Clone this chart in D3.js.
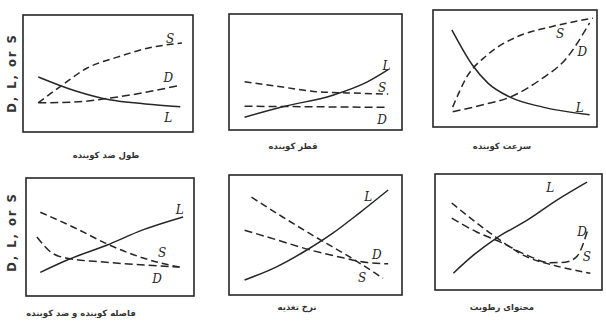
<!DOCTYPE html>
<html>
<head>
<meta charset="utf-8">
<script src="https://cdn.jsdelivr.net/npm/d3@7"></script>
<style>
  body { margin: 0; background: #fff; }
  svg { display: block; }
</style>
</head>
<body>
<div id="chart"></div>
<script>
// عنوان هر نمودار (متغیر محور افقی)
const panelTitles = [
  "طول ضد کوبنده",
  "قطر کوبنده",
  "سرعت کوبنده",
  "فاصله کوبنده و ضد کوبنده",
  "نرخ تغذیه",
  "محتوای رطوبت"
];
const yLabel = "D, L, or S";
const seriesNames = ["L", "S", "D"];

// منحنی ها - مقادیر نسبی (۰ تا ۱۰) خوانده شده از تصویر
const lossCurves = [
  [[0.9, 4.7], [3.1, 3.5], [5.1, 2.75], [7.2, 2.4], [9.25, 2.15]],
  [[0.9, 1.1], [3.1, 2.0], [6.0, 3.0], [8.0, 4.15], [9.2, 5.2]],
  [[1.15, 8.3], [2.4, 5.3], [3.35, 3.75], [4.7, 2.55], [6.7, 1.7], [9.55, 1.05]],
  [[0.85, 2.0], [2.45, 3.05], [4.8, 4.3], [6.95, 5.6], [9.35, 6.7]],
  [[0.9, 1.25], [2.75, 2.35], [4.5, 3.75], [6.0, 5.15], [7.55, 6.85], [9.2, 8.75]],
  [[1.1, 1.45], [2.3, 3.0], [3.7, 4.5], [5.5, 6.0], [7.3, 7.75], [9.1, 9.3]]
];
const separationCurves = [
  [[0.9, 2.5], [2.3, 4.0], [3.75, 5.45], [5.55, 6.4], [7.45, 7.2], [9.35, 7.6]],
  [[0.9, 4.15], [3.1, 3.7], [5.1, 3.3], [6.8, 3.2], [9.2, 3.1]],
  [[1.2, 1.7], [2.05, 4.25], [3.3, 6.15], [5.1, 7.7], [7.15, 8.55], [9.75, 9.3]],
  [[0.85, 7.1], [2.8, 5.85], [5.0, 4.3], [6.8, 3.3], [8.0, 2.8], [9.15, 2.45]],
  [[1.3, 8.15], [3.1, 6.5], [5.1, 4.75], [7.0, 3.15], [8.9, 1.4]],
  [[1.0, 7.5], [2.3, 6.0], [3.7, 4.5], [5.5, 2.85], [7.05, 2.15], [9.3, 1.45]]
];
const damageCurves = [
  [[0.9, 2.5], [2.95, 2.55], [5.1, 2.9], [7.05, 3.35], [9.25, 4.0]],
  [[0.9, 2.05], [5.0, 2.0], [9.2, 1.95]],
  [[1.2, 1.3], [3.05, 1.9], [4.7, 2.55], [6.5, 4.0], [8.15, 5.9], [9.55, 8.9]],
  [[0.65, 5.0], [1.45, 3.75], [2.45, 3.2], [4.4, 2.9], [6.8, 2.65], [9.15, 2.45]],
  [[0.9, 5.4], [2.75, 4.6], [4.7, 3.75], [6.6, 3.1], [8.0, 2.7], [9.2, 2.6]],
  [[1.0, 6.2], [2.5, 5.0], [3.9, 4.15], [5.5, 3.0], [6.9, 2.35], [7.8, 2.4], [8.5, 2.9], [9.15, 5.2]]
];

// چیدمان قاب ها (پیکسل)
const frames = [
  { x: 23, y: 15, w: 170, h: 117, tx: 106, ty: 155 },
  { x: 229, y: 14, w: 173, h: 116, tx: 293, ty: 146 },
  { x: 433, y: 10, w: 164, h: 117, tx: 502, ty: 146 },
  { x: 26, y: 178, w: 168, h: 118, tx: 81, ty: 313 },
  { x: 229, y: 175, w: 173, h: 120, tx: 297, ty: 307 },
  { x: 435, y: 174, w: 167, h: 116, tx: 502, ty: 307 }
];
// محل برچسب حروف روی منحنی ها (واحد نسبی) به ترتیب L, S, D
const labelSpots = [
  [[8.55, 1.2], [8.65, 8.0], [8.55, 4.6]],
  [[9.1, 5.5], [8.85, 3.65], [8.85, 0.85]],
  [[8.95, 1.6], [7.75, 8.0], [9.1, 6.4]],
  [[9.15, 7.3], [8.1, 3.65], [7.8, 1.5]],
  [[8.05, 8.2], [7.7, 1.4], [8.55, 3.35]],
  [[6.9, 8.8], [9.1, 2.85], [8.8, 5.0]]
];
const dashStyle = { L: null, S: "7,4", D: "8,4" };

const width = 606, height = 322;
const svg = d3.select("#chart").append("svg")
  .attr("width", width)
  .attr("height", height);

const ink = "#262626";

frames.forEach((f, i) => {
  const x = d3.scaleLinear().domain([0, 10]).range([0, f.w]);
  const y = d3.scaleLinear().domain([0, 10]).range([f.h, 0]);
  const line = d3.line()
    .x(d => x(d[0]))
    .y(d => y(d[1]))
    .curve(d3.curveMonotoneX);

  const g = svg.append("g").attr("transform", `translate(${f.x},${f.y})`);

  g.append("rect")
    .attr("width", f.w)
    .attr("height", f.h)
    .attr("fill", "none")
    .attr("stroke", ink)
    .attr("stroke-width", 1.6);

  const curves = [lossCurves[i], separationCurves[i], damageCurves[i]];
  curves.forEach((pts, k) => {
    g.append("path")
      .datum(pts)
      .attr("d", line)
      .attr("fill", "none")
      .attr("stroke", ink)
      .attr("stroke-width", 1.5)
      .attr("stroke-dasharray", dashStyle[seriesNames[k]]);

    g.append("text")
      .attr("x", x(labelSpots[i][k][0]))
      .attr("y", y(labelSpots[i][k][1]))
      .attr("dy", "0.35em")
      .attr("text-anchor", "middle")
      .attr("font-family", "DejaVu Serif, serif")
      .attr("font-style", "italic")
      .attr("font-size", 12)
      .attr("fill", ink)
      .text(seriesNames[k]);
  });

  svg.append("text")
    .attr("x", f.tx)
    .attr("y", f.ty)
    .attr("dy", "0.35em")
    .attr("text-anchor", "middle")
    .attr("font-family", "DejaVu Sans, sans-serif")
    .attr("font-size", 8.5)
    .attr("font-weight", "bold")
    .attr("fill", "#333")
    .text(panelTitles[i]);
});

// عنوان محور عمودی برای ردیف ها
[73, 232].forEach(cy => {
  svg.append("text")
    .attr("transform", `translate(12,${cy}) rotate(-90)`)
    .attr("dy", "0.35em")
    .attr("text-anchor", "middle")
    .attr("font-family", "DejaVu Sans, sans-serif")
    .attr("font-size", 11.5)
    .attr("font-weight", "bold")
    .attr("letter-spacing", 2)
    .attr("fill", "#333")
    .text(yLabel);
});
</script>
</body>
</html>
